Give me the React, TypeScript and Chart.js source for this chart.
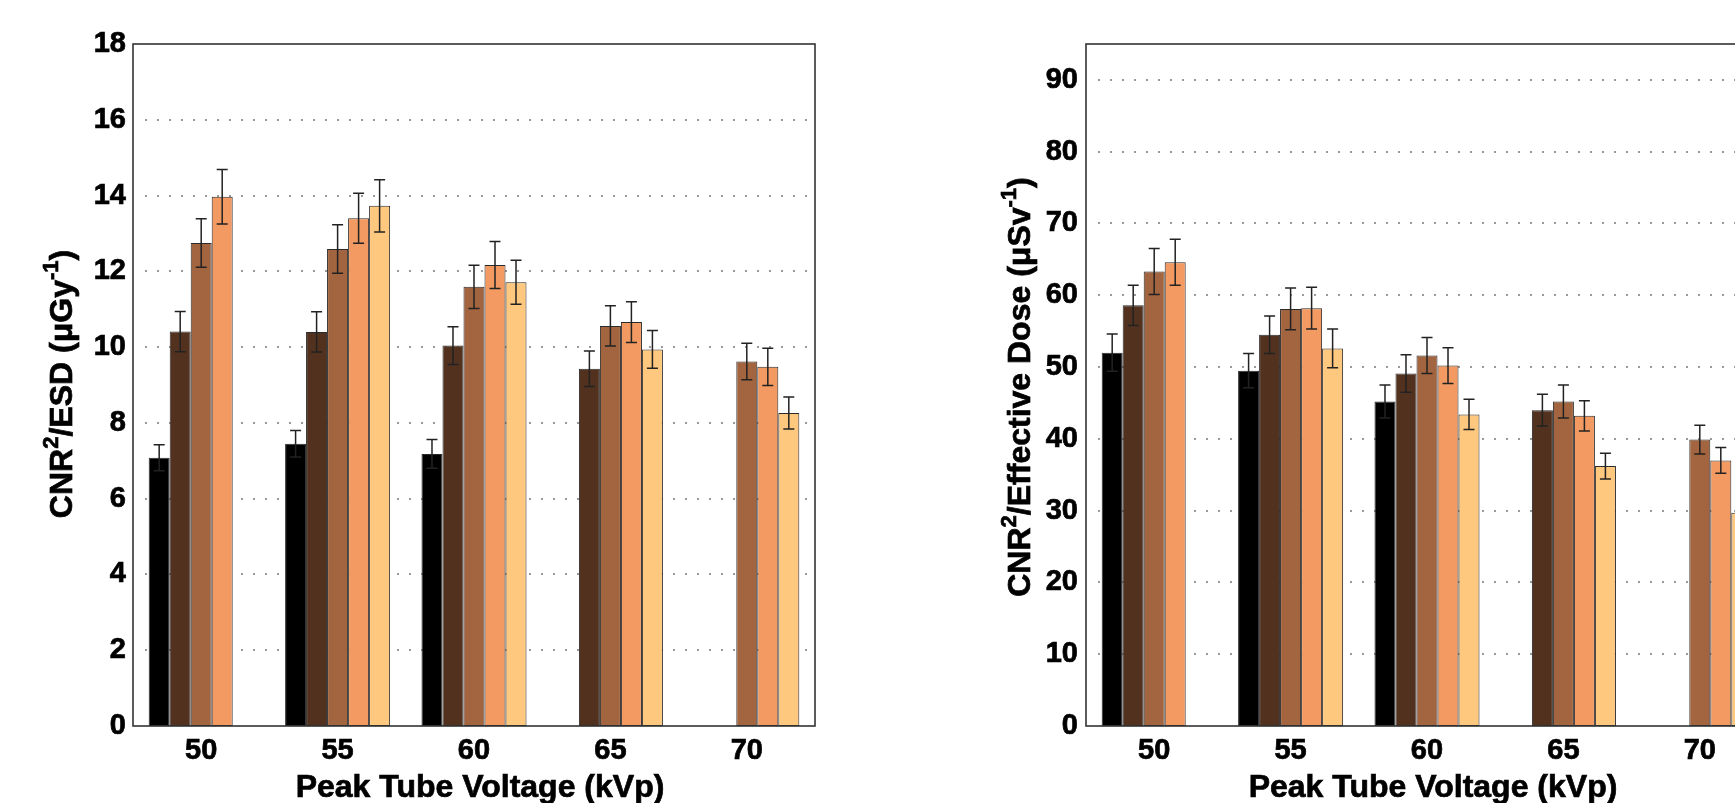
import React, { useEffect, useRef } from 'react';
import { Chart, registerables } from 'chart.js';

Chart.register(...registerables);

// ---------- data ----------
const categories = ['50', '55', '60', '65', '70'];
const seriesLabels = ['S1', 'S2', 'S3', 'S4', 'S5'];
const seriesColors = ['#000000', '#52321F', '#A3653F', '#F29A62', '#FFC87F'];

// Left panel: CNR^2 / ESD
const esdS1 = [7.08, 7.45, 7.18, 0, 0];
const esdS2 = [10.41, 10.4, 10.04, 9.43, 0];
const esdS3 = [12.75, 12.59, 11.59, 10.56, 9.62];
const esdS4 = [13.97, 13.4, 12.17, 10.66, 9.48];
const esdS5 = [0, 13.73, 11.71, 9.94, 8.26];
const esdErr1 = [0.34, 0.35, 0.38, 0, 0];
const esdErr2 = [0.53, 0.53, 0.5, 0.47, 0];
const esdErr3 = [0.64, 0.64, 0.57, 0.53, 0.48];
const esdErr4 = [0.72, 0.66, 0.62, 0.54, 0.49];
const esdErr5 = [0, 0.69, 0.58, 0.5, 0.42];

// Right panel: CNR^2 / Effective Dose
const edS1 = [52.0, 49.5, 45.2, 0, 0];
const edS2 = [58.6, 54.5, 49.1, 44.0, 0];
const edS3 = [63.3, 58.1, 51.6, 45.2, 39.9];
const edS4 = [64.6, 58.2, 50.2, 43.2, 37.0];
const edS5 = [0, 52.6, 43.4, 36.2, 29.7];
const edErr1 = [2.6, 2.4, 2.3, 0, 0];
const edErr2 = [2.8, 2.6, 2.6, 2.2, 0];
const edErr3 = [3.2, 2.9, 2.5, 2.3, 2.0];
const edErr4 = [3.2, 2.9, 2.5, 2.1, 1.8];
const edErr5 = [0, 2.7, 2.1, 1.8, 1.6];

const xTitle = 'Peak Tube Voltage (kVp)';
const leftYTitle = [
  { t: 'CNR', sup: false },
  { t: '2', sup: true },
  { t: '/ESD (\u03bcGy', sup: false },
  { t: '-1', sup: true },
  { t: ')', sup: false },
];
const rightYTitle = [
  { t: 'CNR', sup: false },
  { t: '2', sup: true },
  { t: '/Effective Dose (\u03bcSv', sup: false },
  { t: '-1', sup: true },
  { t: ')', sup: false },
];

const FONT = "'Liberation Sans', Arial, Helvetica, sans-serif";

type Seg = { t: string; sup: boolean };

function drawRich(ctx: CanvasRenderingContext2D, segs: Seg[], size: number) {
  const supSize = Math.round(size * 0.7);
  let total = 0;
  const widths = segs.map((s) => {
    ctx.font = `bold ${s.sup ? supSize : size}px ${FONT}`;
    const w = ctx.measureText(s.t).width;
    total += w;
    return w;
  });
  let x = -total / 2;
  segs.forEach((s, i) => {
    ctx.font = `bold ${s.sup ? supSize : size}px ${FONT}`;
    const y = s.sup ? -size * 0.45 : 0;
    ctx.strokeText(s.t, x, y);
    ctx.fillText(s.t, x, y);
    x += widths[i];
  });
}

function makeChart(
  canvas: HTMLCanvasElement,
  p: {
    values: number[][];
    errors: number[][];
    yMax: number;
    yStep: number;
    yWidth: number;
    padRight: number;
    tickPad: number;
    yTitle: Seg[];
    yTitleX: number;
    yTitleY: number;
  }
) {
  const deco = {
    id: 'deco',
    beforeDatasetsDraw(chart: any) {
      const { ctx, chartArea } = chart;
      const ys = chart.scales.y;
      ctx.save();
      ctx.fillStyle = '#9a9a9a';
      ys.ticks.forEach((t: any) => {
        if (t.value <= ys.min || t.value >= ys.max) return;
        const y = Math.round(ys.getPixelForValue(t.value));
        for (let x = chartArea.left + 13; x < chartArea.right - 3; x += 12) {
          ctx.fillRect(x - 1, y - 1, 2, 2);
        }
      });
      ctx.restore();
    },
    afterDatasetsDraw(chart: any) {
      const { ctx } = chart;
      const ys = chart.scales.y;
      ctx.save();
      ctx.strokeStyle = '#222222';
      ctx.lineWidth = 1.5;
      p.values.forEach((vals, d) => {
        const meta = chart.getDatasetMeta(d);
        vals.forEach((v, i) => {
          const e = p.errors[d][i];
          if (!v || !e) return;
          const el = meta.data[i];
          const x = el.x;
          const yt = ys.getPixelForValue(v + e);
          const yb = ys.getPixelForValue(v - e);
          ctx.beginPath();
          ctx.moveTo(x, yt);
          ctx.lineTo(x, yb);
          ctx.moveTo(x - 5.5, yt);
          ctx.lineTo(x + 5.5, yt);
          ctx.moveTo(x - 5.5, yb);
          ctx.lineTo(x + 5.5, yb);
          ctx.stroke();
        });
      });
      ctx.restore();
    },
    afterDraw(chart: any) {
      const { ctx, chartArea } = chart;
      ctx.save();
      ctx.strokeStyle = '#333333';
      ctx.lineWidth = 1.6;
      ctx.strokeRect(chartArea.left, chartArea.top, chartArea.right - chartArea.left, chartArea.bottom - chartArea.top);
      ctx.fillStyle = '#000000';
      ctx.strokeStyle = '#000000';
      ctx.lineWidth = 0.7;
      ctx.textBaseline = 'alphabetic';
      ctx.textAlign = 'center';
      ctx.font = `bold 32px ${FONT}`;
      const tx = (chartArea.left + chartArea.right) / 2 + 6;
      ctx.strokeText(xTitle, tx, 797);
      ctx.fillText(xTitle, tx, 797);
      ctx.textAlign = 'left';
      ctx.translate(p.yTitleX, p.yTitleY);
      ctx.rotate(-Math.PI / 2);
      drawRich(ctx, p.yTitle, 32);
      ctx.restore();
    },
  };

  const tickFont = { family: FONT, size: 29, weight: 'bold' };

  return new Chart(canvas, {
    type: 'bar',
    data: {
      labels: categories,
      datasets: p.values.map((vals, i) => ({
        label: seriesLabels[i],
        data: vals,
        backgroundColor: seriesColors[i],
        borderColor: '#2a2a2a',
        borderWidth: 1,
        borderSkipped: false,
        categoryPercentage: 0.77,
        barPercentage: 1,
      })),
    },
    options: {
      responsive: false,
      maintainAspectRatio: false,
      animation: false,
      devicePixelRatio: 1,
      layout: { padding: { top: 44, bottom: 0, left: 0, right: p.padRight } },
      plugins: { legend: { display: false }, tooltip: { enabled: false }, title: { display: false } },
      scales: {
        x: {
          type: 'category',
          grid: { display: false, drawTicks: false },
          border: { display: false },
          ticks: {
            color: '#000',
            font: tickFont,
            padding: 8,
            maxRotation: 0,
            textStrokeColor: '#000',
            textStrokeWidth: 0.7,
          },
          afterFit: (s: any) => {
            s.height = 104;
          },
        },
        y: {
          min: 0,
          max: p.yMax,
          grid: { display: false, drawTicks: false },
          border: { display: false },
          ticks: {
            stepSize: p.yStep,
            includeBounds: false,
            color: '#000',
            font: tickFont,
            padding: p.tickPad,
            textStrokeColor: '#000',
            textStrokeWidth: 0.7,
          },
          afterFit: (s: any) => {
            s.width = p.yWidth;
          },
        },
      },
    },
    plugins: [deco],
  } as any);
}

export default function App() {
  const leftRef = useRef<HTMLCanvasElement>(null);
  const rightRef = useRef<HTMLCanvasElement>(null);

  useEffect(() => {
    const c1 = makeChart(leftRef.current!, {
      values: [esdS1, esdS2, esdS3, esdS4, esdS5],
      errors: [esdErr1, esdErr2, esdErr3, esdErr4, esdErr5],
      yMax: 18,
      yStep: 2,
      yWidth: 133,
      padRight: 55,
      tickPad: 7,
      yTitle: leftYTitle,
      yTitleX: 72,
      yTitleY: 384,
    });
    const c2 = makeChart(rightRef.current!, {
      values: [edS1, edS2, edS3, edS4, edS5],
      errors: [edErr1, edErr2, edErr3, edErr4, edErr5],
      yMax: 95,
      yStep: 10,
      yWidth: 216,
      padRight: 62,
      tickPad: 8,
      yTitle: rightYTitle,
      yTitleX: 160,
      yTitleY: 387,
    });
    return () => {
      c1.destroy();
      c2.destroy();
    };
  }, []);

  return (
    <div style={{ position: 'fixed', left: 0, top: 0, width: 1735, height: 803, overflow: 'hidden', background: '#fff' }}>
      <canvas ref={leftRef} width={870} height={830} style={{ position: 'absolute', left: 0, top: 0, width: 870, height: 830 }} />
      <canvas ref={rightRef} width={960} height={830} style={{ position: 'absolute', left: 870, top: 0, width: 960, height: 830 }} />
    </div>
  );
}
